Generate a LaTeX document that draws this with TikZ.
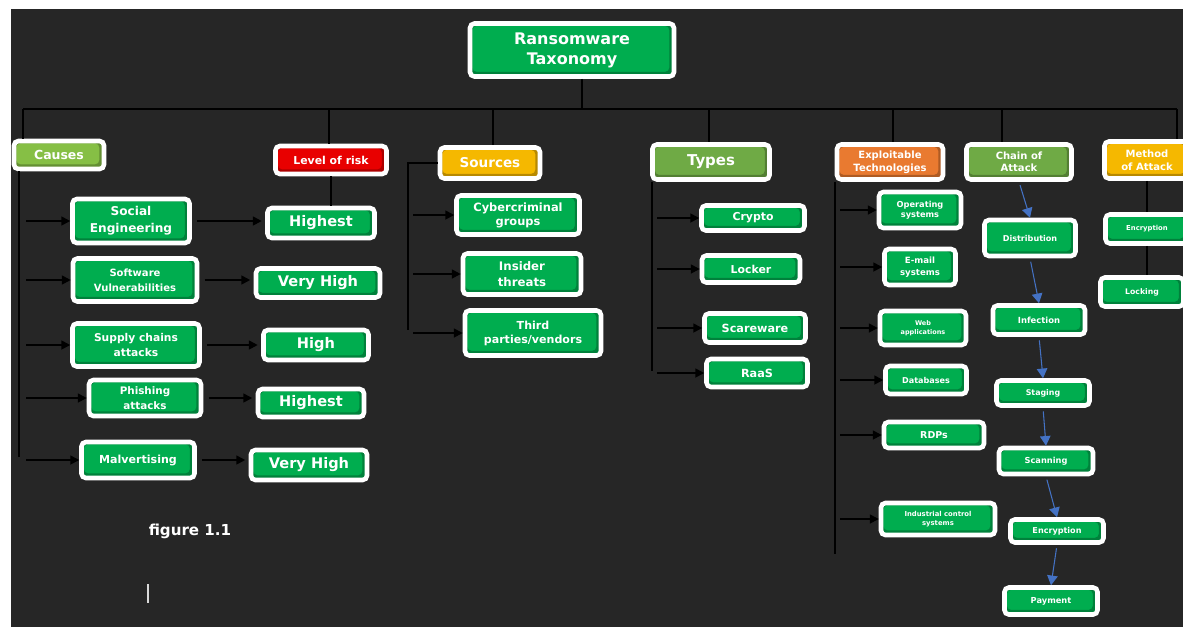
\documentclass[tikz,border=0pt]{standalone}
\usepackage{fontspec}
\setmainfont{DejaVu Sans}
\usetikzlibrary{arrows.meta}

\definecolor{bggray}{HTML}{262626}
\definecolor{boxgreen}{HTML}{00AD4F}
\definecolor{lightgreen}{HTML}{86BF45}
\definecolor{olivegreen}{HTML}{6FAA45}
\definecolor{riskred}{HTML}{E80000}
\definecolor{amber}{HTML}{F5B800}
\definecolor{techorange}{HTML}{E97A30}
\definecolor{flowblue}{HTML}{4472C4}

\begin{document}
\begin{tikzpicture}[
x=0.02cm, y=-0.02cm,
fs/.style 2 args={font=\fontsize{#1}{#2}\selectfont\bfseries},
box/.style={rectangle, rounded corners=2.5pt, draw=white, line width=2.6pt, fill=boxgreen, text=white, align=center, inner sep=0pt,
  path picture={\fill[black,opacity=.25,even odd rule] (path picture bounding box.south west) rectangle (path picture bounding box.north east)
    ([shift={(1.3pt,-1.3pt)}]path picture bounding box.north west) rectangle ([shift={(-2.6pt,2.6pt)}]path picture bounding box.south east);}},
hdr/.style={box, fill=#1},
bus/.style={line width=1pt, draw=black},
feed/.style={bus, -{Triangle[length=5pt,width=5pt]}},
flow/.style={line width=0.6pt, draw=flowblue, -{Triangle[length=5.5pt,width=6pt]}},
]

% page and dark background
\useasboundingbox (0,0) rectangle (1183,627);
\clip (0,0) rectangle (1183,627);
\fill[white] (0,0) rectangle (1183,627);
\fill[bggray] (11,9) rectangle (1183,627);

% Root
\node[hdr=boxgreen, fs={9.1}{11.3}, minimum width=4.08cm, minimum height=1.06cm] (root) at (572,50) {Ransomware\\Taxonomy};

% Main branches
\node[hdr=lightgreen, fs={7.1}{8.5}, minimum width=1.80cm, minimum height=0.56cm] (causes) at (59,155) {Causes};
\node[hdr=riskred, fs={6.2}{7.5}, minimum width=2.22cm, minimum height=0.56cm] (risk) at (331,160) {Level of risk};
\node[hdr=amber, fs={7.7}{9}, minimum width=2.00cm, minimum height=0.62cm] (sources) at (490,163) {Sources};
\node[hdr=olivegreen, fs={8.5}{10}, minimum width=2.34cm, minimum height=0.70cm] (types) at (711,162) {Types};
\node[hdr=techorange, fs={5.7}{7.2}, minimum width=2.12cm, minimum height=0.70cm] (exploit) at (890,162) {Exploitable\\Technologies};
\node[hdr=olivegreen, fs={5.7}{7}, minimum width=2.10cm, minimum height=0.70cm] (chain) at (1019,162) {Chain of\\Attack};
\node[hdr=amber, fs={5.7}{7.2}, minimum width=1.70cm, minimum height=0.74cm] (method) at (1147,160) {Method\\of Attack};

% Causes
\node[box, fs={6.9}{9.5}, minimum width=2.34cm, minimum height=0.88cm] (social) at (131,221) {Social\\Engineering};
\node[box, fs={5.7}{8.3}, minimum width=2.48cm, minimum height=0.86cm] (software) at (135,280) {Software\\Vulnerabilities};
\node[box, fs={6.1}{8}, minimum width=2.54cm, minimum height=0.86cm] (supply) at (136,345) {Supply chains\\attacks};
\node[box, fs={5.9}{8.5}, minimum width=2.24cm, minimum height=0.72cm] (phishing) at (145,398) {Phishing\\attacks};
\node[box, fs={6.3}{8}, minimum width=2.26cm, minimum height=0.72cm] (malvert) at (138,460) {Malvertising};

% Level of risk
\node[box, fs={8.3}{10}, minimum width=2.14cm, minimum height=0.60cm] (highest1) at (321,223) {Highest};
\node[box, fs={8.3}{10}, minimum width=2.48cm, minimum height=0.58cm] (veryhigh1) at (318,283) {Very High};
\node[box, fs={8.3}{10}, minimum width=2.10cm, minimum height=0.60cm] (high) at (316,345) {High};
\node[box, fs={8.3}{10}, minimum width=2.12cm, minimum height=0.56cm] (highest2) at (311,403) {Highest};
\node[box, fs={8.3}{10}, minimum width=2.32cm, minimum height=0.60cm] (veryhigh2) at (309,465) {Very High};

% Sources
\node[box, fs={6.5}{8}, minimum width=2.46cm, minimum height=0.78cm] (cyber) at (518,215) {Cybercriminal\\groups};
\node[box, fs={6.7}{9}, minimum width=2.36cm, minimum height=0.82cm] (insider) at (522,274) {Insider\\threats};
\node[box, fs={6.3}{8}, minimum width=2.72cm, minimum height=0.90cm] (third) at (533,333) {Third\\parties/vendors};

% Types
\node[box, fs={6.2}{8}, minimum width=2.06cm, minimum height=0.50cm] (crypto) at (753,218) {Crypto};
\node[box, fs={6.2}{8}, minimum width=1.96cm, minimum height=0.54cm] (locker) at (751,269) {Locker};
\node[box, fs={6.4}{8}, minimum width=2.02cm, minimum height=0.58cm] (scare) at (755,328) {Scareware};
\node[box, fs={6.4}{8}, minimum width=2.02cm, minimum height=0.56cm] (raas) at (757,373) {RaaS};

% Exploitable technologies
\node[box, fs={4.7}{5.7}, minimum width=1.64cm, minimum height=0.72cm] (opsys) at (920,210) {Operating\\systems};
\node[box, fs={4.9}{6.8}, minimum width=1.42cm, minimum height=0.72cm] (email) at (920,267) {E-mail\\systems};
\node[box, fs={3.7}{5}, minimum width=1.72cm, minimum height=0.68cm] (webapp) at (923,328) {Web\\applications};
\node[box, fs={4.6}{6}, minimum width=1.62cm, minimum height=0.56cm] (dbase) at (926,380) {Databases};
\node[box, fs={5.4}{6.5}, minimum width=2.00cm, minimum height=0.52cm] (rdps) at (934,435) {RDPs};
\node[box, fs={3.9}{5}, minimum width=2.28cm, minimum height=0.64cm] (ics) at (938,519) {Industrial control\\systems};

% Chain of attack
\node[box, fs={4.6}{6}, minimum width=1.82cm, minimum height=0.72cm] (distrib) at (1030,238) {Distribution};
\node[box, fs={4.8}{6}, minimum width=1.84cm, minimum height=0.58cm] (infect) at (1039,320) {Infection};
\node[box, fs={4.5}{6}, minimum width=1.86cm, minimum height=0.50cm] (staging) at (1043,393) {Staging};
\node[box, fs={4.7}{6}, minimum width=1.88cm, minimum height=0.52cm] (scanning) at (1046,461) {Scanning};
\node[box, fs={4.6}{6}, minimum width=1.86cm, minimum height=0.46cm] (encrypt) at (1057,531) {Encryption};
\node[box, fs={4.7}{6}, minimum width=1.86cm, minimum height=0.54cm] (payment) at (1051,601) {Payment};

% Method of attack
\node[box, fs={3.9}{5}, minimum width=1.66cm, minimum height=0.58cm] (mencrypt) at (1147,229) {Encryption};
\node[box, fs={4.4}{5.5}, minimum width=1.66cm, minimum height=0.58cm] (locking) at (1142,292) {Locking};

% bus under the root
\coordinate (busl) at (23,109);
\coordinate (busr) at (1177,109);
\draw[bus] ([xshift=0.2cm]root.south) -- ([xshift=0.2cm]root.south |- busl);
\draw[bus] (busl) -- (busr);
\foreach \dx/\tgt in {23/causes,329/risk,493/sources,709/types,893/exploit,1002/chain,1177/method}{
  \coordinate (d\tgt) at (\dx,109);
  \draw[bus] (d\tgt) -- (d\tgt |- \tgt.north);
}

% Causes spine and risk arrows
\coordinate (cfoot) at (19,457);
\draw[bus] (cfoot |- causes.south) -- (cfoot);
\foreach \n in {social,software,supply,phishing,malvert}
  \draw[feed, shorten <=4pt] (cfoot |- \n.west) -- (\n.west);
\draw[bus] (risk.south) -- (risk.south |- highest1.north);
\foreach \a/\b in {social/highest1,software/veryhigh1,supply/high,phishing/highest2,malvert/veryhigh2}
  \draw[feed, shorten <=3pt, shorten >=2pt] (\a.east) -- (\a.east -| \b.west);

% Sources spine
\coordinate (sfoot) at (408,330);
\draw[bus] (sources.west) -- (sources.west -| sfoot) -- (sfoot);
\foreach \n in {cyber,insider,third}
  \draw[feed, shorten <=3pt] (sfoot |- \n.west) -- (\n.west);

% Types spine
\coordinate (tfoot) at (652,371);
\draw[bus] (tfoot |- types.south) -- (tfoot);
\foreach \n in {crypto,locker,scare,raas}
  \draw[feed, shorten <=3pt] (tfoot |- \n.west) -- (\n.west);

% Exploitable technologies spine
\coordinate (efoot) at (835,554);
\draw[bus] (efoot |- exploit.south) -- (efoot);
\foreach \n in {opsys,email,webapp,dbase,rdps,ics}
  \draw[feed, shorten <=3pt] (efoot |- \n.west) -- (\n.west);

% Chain of attack flow
\foreach \a/\b in {chain/distrib,distrib/infect,infect/staging,staging/scanning,scanning/encrypt,encrypt/payment}
  \draw[flow, shorten <=2pt] (\a.south) -- (\b.north);

% Method of attack
\draw[bus] (method.south) -- (mencrypt.north);
\draw[bus] (mencrypt.south) -- (mencrypt.south |- locking.north);

% caption and cursor
\node[text=white, fs={8.6}{10}] (fig) at (190,531) {figure 1.1};
\draw[white!85!black, line width=0.6pt] (148,584) -- (148,603);
\end{tikzpicture}
\end{document}
